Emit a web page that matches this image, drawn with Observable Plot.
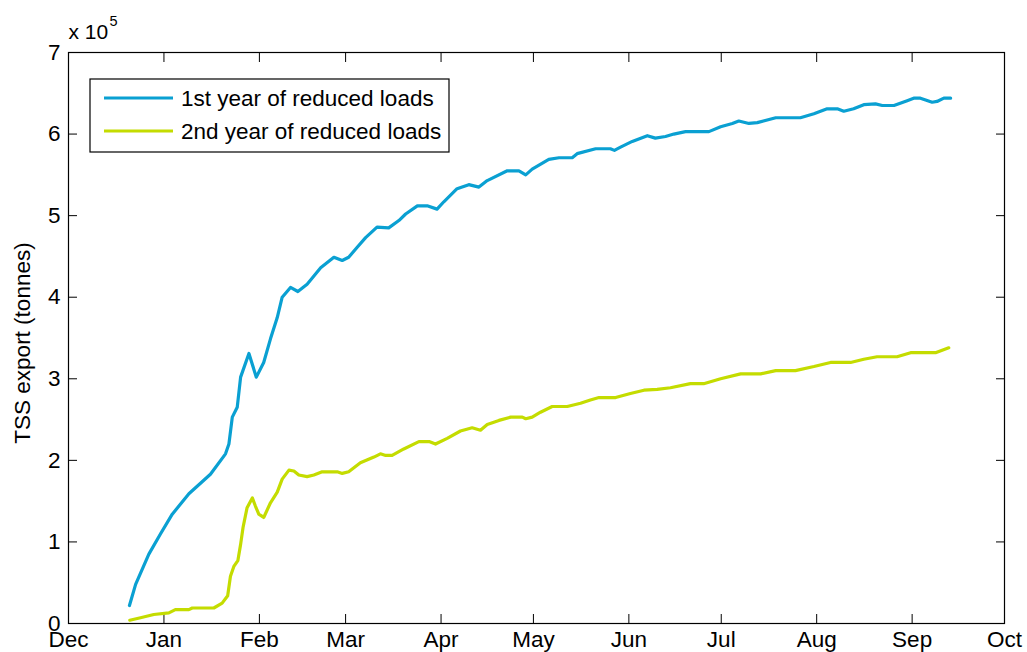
<!DOCTYPE html>
<html>
<head>
<meta charset="utf-8">
<script src="https://cdn.jsdelivr.net/npm/d3@7"></script>
<script src="https://cdn.jsdelivr.net/npm/@observablehq/plot@0.6"></script>
<style>
  html, body { margin: 0; padding: 0; background: #fff; }
  #chart { width: 1027px; height: 652px; }
  svg { font-family: "Liberation Sans", Arial, sans-serif; }
</style>
</head>
<body>
<div id="chart"></div>
<script>
// ---- data (days since 1 Dec; TSS export in units of 10^5 tonnes) ----
const seriesNames = ["1st year of reduced loads", "2nd year of reduced loads"];
const monthLabels = ["Dec","Jan","Feb","Mar","Apr","May","Jun","Jul","Aug","Sep","Oct"];
const yTicks = [0, 1, 2, 3, 4, 5, 6, 7];

const year1Days = [19.8,21.8,26.1,29.9,33.7,39.1,46.1,51.0,52.1,53.2,54.8,55.9,58.6,61.0,63.4,65.6,67.8,69.4,72.1,74.5,77.5,81.9,86.2,88.9,91.0,93.7,96.5,100.2,104.0,107.3,109.5,113.3,116.5,119.7,121.9,126.2,130.0,133.3,136.0,142.5,146.3,148.5,150.6,156.0,159.3,163.6,165.2,171.2,176.0,177.3,179.3,183.1,188.0,190.6,193.9,196.6,200.4,208.0,211.8,215.6,217.7,221.0,223.7,229.7,237.7,242.1,246.4,249.7,251.8,255.0,258.3,262.1,264.3,268.1,272.4,274.5,276.7,280.5,282.1,284.3,286.5];
const year1Vals = [0.22,0.48,0.85,1.10,1.34,1.59,1.83,2.08,2.20,2.53,2.65,3.02,3.31,3.02,3.20,3.49,3.75,4.00,4.12,4.07,4.16,4.36,4.49,4.45,4.49,4.61,4.73,4.86,4.85,4.94,5.02,5.12,5.12,5.08,5.17,5.33,5.38,5.35,5.43,5.55,5.55,5.50,5.57,5.69,5.71,5.71,5.76,5.82,5.82,5.80,5.84,5.91,5.98,5.95,5.97,6.00,6.03,6.03,6.09,6.13,6.16,6.13,6.14,6.20,6.20,6.25,6.31,6.31,6.28,6.31,6.36,6.37,6.35,6.35,6.41,6.44,6.44,6.39,6.40,6.44,6.44];

const year2Days = [19.9,23.4,27.7,32.6,34.7,39.1,40.2,47.2,49.9,51.7,52.6,53.7,55.0,55.9,56.7,58.0,59.7,60.7,61.8,63.4,65.6,67.8,69.4,71.6,73.2,74.8,77.5,79.7,82.4,87.3,88.9,91.0,94.8,99.2,101.3,103.0,105.1,108.9,113.8,117.1,119.2,123.0,127.3,131.1,133.8,136.0,139.8,143.6,147.4,148.5,150.6,153.3,157.1,162.0,166.3,169.5,172.3,177.7,182.5,186.9,191.2,195.5,202.0,206.3,211.8,218.3,224.8,229.7,236.1,242.1,247.5,254.0,258.3,262.6,269.1,273.5,281.6,285.9];
const year2Vals = [0.04,0.07,0.11,0.13,0.17,0.17,0.19,0.19,0.25,0.34,0.58,0.70,0.77,0.97,1.18,1.42,1.54,1.44,1.34,1.30,1.48,1.61,1.77,1.88,1.87,1.82,1.80,1.82,1.86,1.86,1.84,1.86,1.97,2.04,2.08,2.06,2.06,2.14,2.23,2.23,2.20,2.27,2.36,2.40,2.37,2.44,2.49,2.53,2.53,2.51,2.53,2.59,2.66,2.66,2.70,2.74,2.77,2.77,2.82,2.86,2.87,2.89,2.94,2.94,3.00,3.06,3.06,3.10,3.10,3.15,3.20,3.20,3.24,3.27,3.27,3.32,3.32,3.38];

const colors = ["#0aa0d2", "#c4dc00"];

// ---- build tables ----
const start = Date.UTC(2000, 11, 1);
const toDate = d => new Date(start + d * 864e5);
const months = monthLabels.map((m, i) => new Date(Date.UTC(2000, 11 + i, 1)));
const rows1 = year1Days.map((d, i) => ({date: toDate(d), value: year1Vals[i], series: seriesNames[0]}));
const rows2 = year2Days.map((d, i) => ({date: toDate(d), value: year2Vals[i], series: seriesNames[1]}));

const fs = 22.5;
const blank = () => "";

const plot = Plot.plot({
  width: 1027,
  height: 652,
  marginLeft: 68,
  marginRight: 23,
  marginTop: 52,
  marginBottom: 29,
  style: {fontFamily: "'Liberation Sans', Arial, sans-serif", fontSize: fs + "px", background: "#fff", color: "#000"},
  x: {type: "utc", domain: [months[0], months[months.length - 1]]},
  y: {domain: [0, 7]},
  marks: [
    Plot.axisX({anchor: "bottom", ticks: months, tickFormat: d3.utcFormat("%b"), tickSize: -9, tickPadding: 17, label: null, fontSize: fs}),
    Plot.axisX({anchor: "top", ticks: months, tickFormat: blank, tickSize: -9, label: null}),
    Plot.axisY({anchor: "left", ticks: yTicks, tickFormat: d3.format("d"), tickSize: -9, tickPadding: 17, label: null, fontSize: fs}),
    Plot.axisY({anchor: "right", ticks: yTicks, tickFormat: blank, tickSize: -9, label: null}),
    Plot.frame({stroke: "#000", strokeWidth: 1.2}),
    Plot.line(rows1, {x: "date", y: "value", stroke: colors[0], strokeWidth: 3.2}),
    Plot.line(rows2, {x: "date", y: "value", stroke: colors[1], strokeWidth: 3.2}),
    Plot.text(["TSS export (tonnes)"], {frameAnchor: "left", textAnchor: "middle", lineAnchor: "middle", rotate: -90, dx: -46, dy: 5, fontSize: fs, fill: "#000"}),
    Plot.text(["x 10"], {frameAnchor: "top-left", textAnchor: "start", lineAnchor: "middle", dx: 0, dy: -20, fontSize: 21, fill: "#000"}),
    Plot.text(["5"], {frameAnchor: "top-left", textAnchor: "start", lineAnchor: "middle", dx: 41, dy: -31, fontSize: 14.5, fill: "#000"})
  ]
});

document.getElementById("chart").appendChild(plot);

// ---- legend inside the axes (upper left) ----
const svg = d3.select(plot);
const lg = svg.append("g").attr("class", "legend");
lg.append("rect")
  .attr("x", 90).attr("y", 79).attr("width", 359).attr("height", 73)
  .attr("fill", "#fff").attr("stroke", "#000").attr("stroke-width", 1.2);
seriesNames.forEach((name, i) => {
  const cy = 98 + i * 33;
  lg.append("line")
    .attr("x1", 104).attr("x2", 173).attr("y1", cy).attr("y2", cy)
    .attr("stroke", colors[i]).attr("stroke-width", 3.2);
  lg.append("text")
    .attr("x", 181).attr("y", cy).attr("dy", "0.35em")
    .attr("text-anchor", "start")
    .attr("font-size", fs).attr("fill", "#000")
    .text(name);
});
</script>
</body>
</html>
